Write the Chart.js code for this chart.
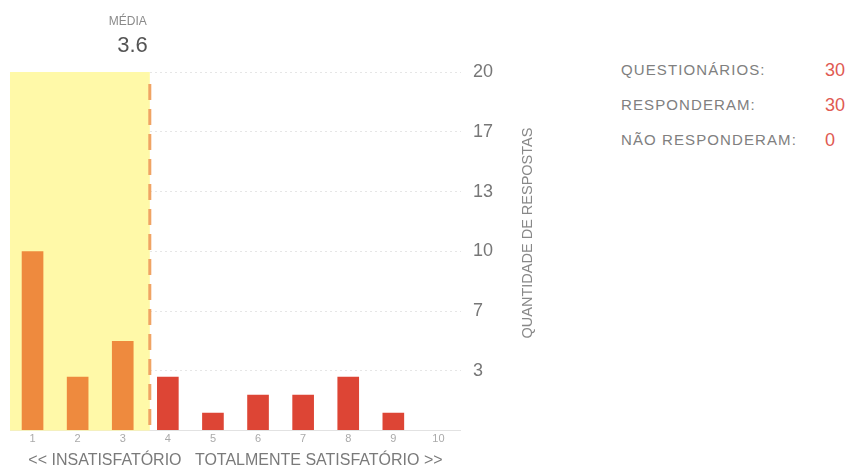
<!DOCTYPE html>
<html>
<head>
<meta charset="utf-8">
<script src="https://cdn.jsdelivr.net/npm/chart.js@4"></script>
<style>
  body { margin: 0; background: #fff; font-family: "Liberation Sans", Arial, sans-serif; }
  #wrap { position: relative; width: 851px; height: 473px; }
  #chartBox { position: absolute; left: 0; top: 0; width: 570px; height: 473px; }
  .stat { position: absolute; left: 621px; font-size: 15px; line-height: 18px; color: #808080; letter-spacing: 1.1px; }
  .val { position: absolute; left: 825px; font-size: 18px; line-height: 20px; color: #e05a52; }
</style>
</head>
<body>
<div id="wrap">
  <div id="chartBox"><canvas id="chart"></canvas></div>
  <div class="stat" style="top:61px">QUESTIONÁRIOS:</div>
  <div class="val" style="top:60px">30</div>
  <div class="stat" style="top:96px">RESPONDERAM:</div>
  <div class="val" style="top:95px">30</div>
  <div class="stat" style="top:131px">NÃO RESPONDERAM:</div>
  <div class="val" style="top:130px">0</div>
</div>
<script>
Chart.defaults.font.family = "'Liberation Sans', Arial, sans-serif";

const notas = [1, 2, 3, 4, 5, 6, 7, 8, 9, 10];
const respostas = [10, 3, 5, 3, 1, 2, 2, 3, 1, 0];
const media = 3.6;
const yMax = 20;
const yStep = 20 / 6;

const ORANGE = "#ee8a3e";
const RED = "#dd4535";

// faixa amarela ate a media + linha tracejada
const mediaPlugin = {
  id: "media",
  beforeDatasetsDraw(chart) {
    const { ctx, chartArea, scales } = chart;
    const xm = scales.x.getPixelForValue(media);
    const yTop = scales.y.getPixelForValue(yMax);
    ctx.save();
    ctx.fillStyle = "#fff9a8";
    ctx.fillRect(chartArea.left, yTop, xm - chartArea.left, chartArea.bottom - yTop);
    ctx.strokeStyle = "#f0a464";
    ctx.lineWidth = 3;
    ctx.setLineDash([16, 9]);
    ctx.beginPath();
    ctx.moveTo(xm, yTop + 12);
    ctx.lineTo(xm, chartArea.bottom);
    ctx.stroke();
    ctx.restore();
  },
  afterDraw(chart) {
    const { ctx, scales } = chart;
    const xm = scales.x.getPixelForValue(media);
    ctx.save();
    ctx.textAlign = "right";
    ctx.textBaseline = "middle";
    ctx.fillStyle = "#8a8a8a";
    ctx.font = "12px 'Liberation Sans', Arial";
    ctx.fillText("MÉDIA", xm - 3, 22);
    ctx.fillStyle = "#555";
    ctx.font = "22px 'Liberation Sans', Arial";
    ctx.fillText(media.toFixed(1), xm - 2, 46);
    // titulo do eixo y
    ctx.translate(528, 233);
    ctx.rotate(-Math.PI / 2);
    ctx.textAlign = "center";
    ctx.fillStyle = "#888";
    ctx.font = "14.5px 'Liberation Sans', Arial";
    ctx.fillText("QUANTIDADE DE RESPOSTAS", 0, 0);
    ctx.restore();
  }
};

new Chart(document.getElementById("chart"), {
  type: "bar",
  data: {
    datasets: [{
      data: notas.map((n, i) => ({ x: n, y: respostas[i] })),
      backgroundColor: notas.map(n => n <= 3 ? ORANGE : RED),
      barPercentage: 0.48,
      categoryPercentage: 1
    }]
  },
  options: {
    responsive: true,
    maintainAspectRatio: false,
    animation: false,
    layout: { padding: { left: 10, top: 72, right: 65, bottom: 3 } },
    plugins: { legend: { display: false }, tooltip: { enabled: false } },
    scales: {
      x: {
        type: "linear",
        offset: false,
        min: 0.5,
        max: 10.5,
        afterBuildTicks: s => { s.ticks = notas.map(v => ({ value: v })); },
        grid: { display: false, drawTicks: false },
        border: { display: true, color: "#e2e2e2", width: 1 },
        ticks: { color: "#aaa", font: { size: 11 }, padding: 2, autoSkip: false, maxRotation: 0 },
        title: {
          display: true,
          text: "<< INSATISFATÓRIO   TOTALMENTE SATISFATÓRIO >>",
          color: "#7a7a7a",
          font: { size: 16 },
          padding: { top: 3, bottom: 0 }
        }
      },
      y: {
        position: "right",
        min: 0,
        max: yMax,
        afterBuildTicks: s => { s.ticks = [0, 1, 2, 3, 4, 5, 6].map(k => ({ value: k * yStep })); },
        grid: { color: "#e6e6e6", drawTicks: false, lineWidth: 1 },
        border: { display: false, dash: [2, 3] },
        ticks: {
          color: "#777",
          font: { size: 18 },
          padding: 12,
          callback: v => v === 0 ? "" : Math.round(v)
        }
      }
    }
  },
  plugins: [mediaPlugin]
});
</script>
</body>
</html>
